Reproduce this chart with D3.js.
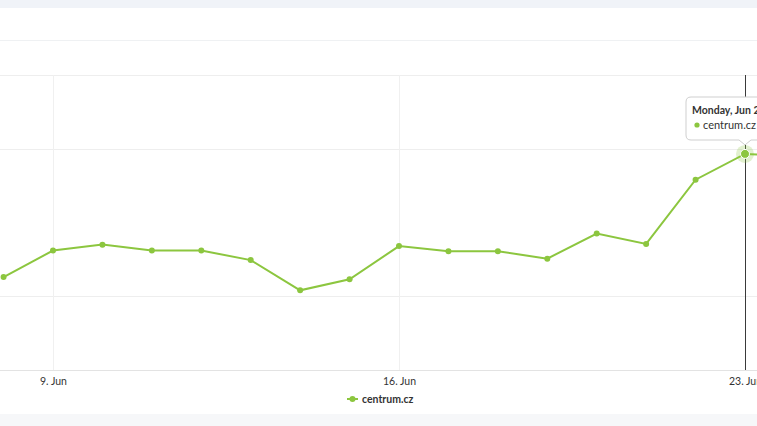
<!DOCTYPE html>
<html>
<head>
<meta charset="utf-8">
<script src="https://cdn.jsdelivr.net/npm/d3@7"></script>
<style>
  html, body { margin: 0; padding: 0; background: #ffffff; }
  svg { display: block; font-family: Lato, "Open Sans", sans-serif; }
</style>
</head>
<body>
<svg id="chart" width="757" height="426"></svg>
<script>
// ---- data ----
const dates = ["2025-06-08","2025-06-09","2025-06-10","2025-06-11","2025-06-12","2025-06-13","2025-06-14","2025-06-15",
               "2025-06-16","2025-06-17","2025-06-18","2025-06-19","2025-06-20","2025-06-21","2025-06-22","2025-06-23","2025-06-24"];
const values = [126, 162, 170, 162, 162, 149, 108, 123, 168, 161, 161, 151, 185, 171, 258, 293, 290];
const seriesName = "centrum.cz";
const xTickDates = ["2025-06-09", "2025-06-16", "2025-06-23"];
const xTickLabels = ["9. Jun", "16. Jun", "23. Jun"];
const yGridValues = [100, 300, 400];
const hoverIndex = 15;
const tooltipTitle = "Monday, Jun 23, 2025";

// ---- layout ----
const W = 757, H = 426;
const plot = { left: 0, right: 757, top: 75, bottom: 370 };
const green = "#8cc63f";

const svg = d3.select("#chart");
const parse = d3.utcParse("%Y-%m-%d");
const data = dates.map((d, i) => ({ date: parse(d), value: values[i] }));

const x = d3.scaleUtc()
  .domain([parse("2025-06-09"), parse("2025-06-23")])
  .range([53, 745]);
const y = d3.scaleLinear().domain([0, 400]).range([plot.bottom, plot.top]);

// background bands
svg.append("rect").attr("x", 0).attr("y", 0).attr("width", W).attr("height", 8).attr("fill", "#f0f3f8");
svg.append("rect").attr("x", 0).attr("y", 414).attr("width", W).attr("height", 12).attr("fill", "#f6f7f9");
svg.append("line").attr("x1", 0).attr("x2", W).attr("y1", 40.5).attr("y2", 40.5)
  .attr("stroke", "#eff1f3").attr("stroke-width", 1);

const clip = svg.append("defs").append("clipPath").attr("id", "plotclip");
clip.append("rect").attr("x", 0).attr("y", 0).attr("width", W).attr("height", H);

// horizontal grid
svg.append("g").selectAll("line").data(yGridValues).join("line")
  .attr("x1", 0).attr("x2", W)
  .attr("y1", d => Math.round(y(d)) + 0.5).attr("y2", d => Math.round(y(d)) + 0.5)
  .attr("stroke", "#eeeeee").attr("stroke-width", 1);

// vertical grid
svg.append("g").selectAll("line").data(xTickDates.map(parse)).join("line")
  .attr("x1", d => Math.round(x(d)) + 0.5).attr("x2", d => Math.round(x(d)) + 0.5)
  .attr("y1", plot.top).attr("y2", plot.bottom)
  .attr("stroke", "#f0f0f0").attr("stroke-width", 1);

// x axis baseline
svg.append("line").attr("x1", 0).attr("x2", W)
  .attr("y1", plot.bottom + 0.5).attr("y2", plot.bottom + 0.5)
  .attr("stroke", "#e3e3e3").attr("stroke-width", 1);

// x axis labels
const xAxis = d3.axisBottom(x)
  .tickValues(xTickDates.map(parse))
  .tickFormat((d, i) => xTickLabels[i])
  .tickSize(0).tickPadding(8);
const xg = svg.append("g").attr("transform", `translate(0,${plot.bottom})`).call(xAxis);
xg.select(".domain").remove();
xg.selectAll("text").attr("font-size", 10.5).attr("fill", "#333").attr("font-family", "Lato, sans-serif");

// crosshair
const hx = x(data[hoverIndex].date);
svg.append("line").attr("x1", Math.round(hx) + 0.5).attr("x2", Math.round(hx) + 0.5)
  .attr("y1", plot.top).attr("y2", plot.bottom)
  .attr("stroke", "#3a3a3a").attr("stroke-width", 1);

// line
const g = svg.append("g").attr("clip-path", "url(#plotclip)");
g.append("path").datum(data)
  .attr("fill", "none").attr("stroke", green).attr("stroke-width", 2)
  .attr("d", d3.line().x(d => x(d.date)).y(d => y(d.value)));

g.selectAll("circle.pt").data(data).join("circle")
  .attr("class", "pt")
  .attr("cx", d => x(d.date)).attr("cy", d => y(d.value))
  .attr("r", 3).attr("fill", green);

// hover marker
const hp = data[hoverIndex];
g.append("circle").attr("cx", x(hp.date)).attr("cy", y(hp.value)).attr("r", 9)
  .attr("fill", green).attr("opacity", 0.25);
g.append("circle").attr("cx", x(hp.date)).attr("cy", y(hp.value)).attr("r", 4.5)
  .attr("fill", green).attr("stroke", "#ffffff").attr("stroke-width", 1);

// tooltip
const tx = 686, ty = 97, tw = 120, th = 43;
const px = x(hp.date), py = y(hp.value);
const tip = svg.append("g");
const r = 5;
const tipPath = `M${tx + r},${ty} H${tx + tw - r} Q${tx + tw},${ty} ${tx + tw},${ty + r} V${ty + th - r}
  Q${tx + tw},${ty + th} ${tx + tw - r},${ty + th} H${px + 6} L${px},${py - 9} L${px - 6},${ty + th}
  H${tx + r} Q${tx},${ty + th} ${tx},${ty + th - r} V${ty + r} Q${tx},${ty} ${tx + r},${ty} Z`;
tip.append("path").attr("d", tipPath)
  .attr("fill", "#ffffff").attr("stroke", "#cfcfcf").attr("stroke-width", 1);
tip.append("text").attr("x", tx + 6).attr("y", ty + 16.5)
  .attr("font-size", 10.5).attr("font-weight", 700).attr("fill", "#333").text(tooltipTitle);
tip.append("circle").attr("cx", tx + 11).attr("cy", ty + 28).attr("r", 2.6).attr("fill", green);
tip.append("text").attr("x", tx + 17).attr("y", ty + 32)
  .attr("font-size", 11).attr("fill", "#333").text(seriesName);

// legend
const lg = svg.append("g").attr("transform", "translate(347,399)");
lg.append("line").attr("x1", 0).attr("x2", 11).attr("y1", 0).attr("y2", 0)
  .attr("stroke", green).attr("stroke-width", 2);
lg.append("circle").attr("cx", 5.5).attr("cy", 0).attr("r", 3).attr("fill", green);
lg.append("text").attr("x", 15).attr("y", 3.5)
  .attr("font-size", 10.5).attr("font-weight", 700).attr("fill", "#333").text(seriesName);
</script>
</body>
</html>
